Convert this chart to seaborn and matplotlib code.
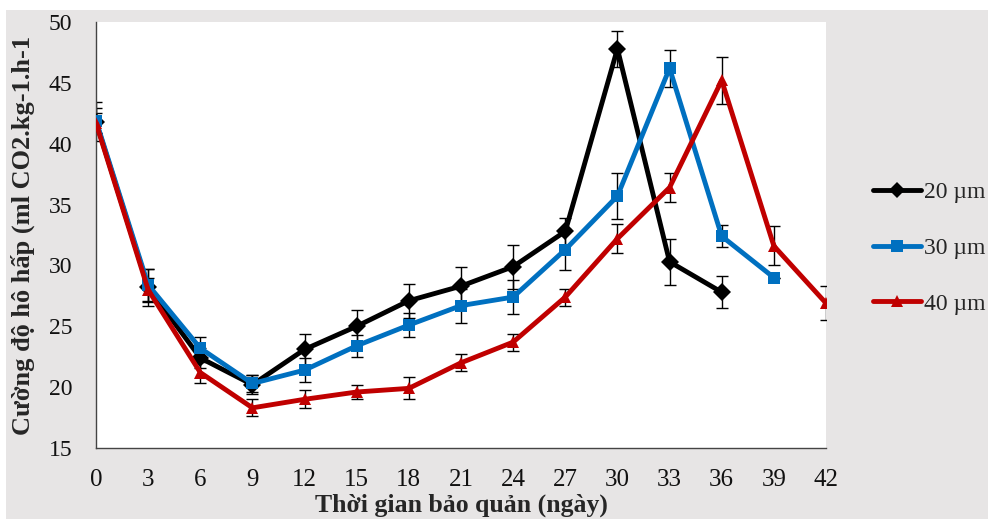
import numpy as np
import pandas as pd
import matplotlib
matplotlib.use("Agg")
import matplotlib.pyplot as plt
import seaborn as sns
from matplotlib.patches import Rectangle
from matplotlib.lines import Line2D

# ---- data ----
days_20 = [0, 3, 6, 9, 12, 15, 18, 21, 24, 27, 30, 33, 36]
vals_20 = [41.8, 28.2, 22.4, 20.2, 23.1, 25.0, 27.1, 28.3, 29.9, 32.8, 47.8, 30.3, 27.8]
err_20 = [1.6, 1.5, 0.8, 0.8, 1.3, 1.3, 1.4, 1.6, 1.8, 1.1, 1.5, 1.9, 1.3]

days_30 = [0, 3, 6, 9, 12, 15, 18, 21, 24, 27, 30, 33, 36, 39]
vals_30 = [41.9, 28.4, 23.2, 20.3, 21.4, 23.4, 25.1, 26.7, 27.4, 31.3, 35.7, 46.2, 32.4, 29.0]
err_30 = [1.0, 1.3, 0.9, 0.7, 1.0, 0.9, 1.0, 1.4, 1.4, 1.7, 1.9, 1.5, 0.9, 0.0]

days_40 = [0, 3, 6, 9, 12, 15, 18, 21, 24, 27, 30, 33, 36, 39, 42]
vals_40 = [41.7, 28.0, 21.2, 18.3, 19.0, 19.6, 19.9, 22.0, 23.7, 27.4, 32.2, 36.4, 45.2, 31.6, 26.9]
err_40 = [0.8, 1.0, 0.9, 0.7, 0.75, 0.6, 0.9, 0.7, 0.7, 0.7, 1.2, 1.2, 1.9, 1.6, 1.4]

series_names = ["20 µm", "30 µm", "40 µm"]
x_ticks = list(range(0, 43, 3))
y_ticks = [15, 20, 25, 30, 35, 40, 45, 50]

colors = {"20 µm": "#000000", "30 µm": "#0070C0", "40 µm": "#C00000"}
markers = {"20 µm": "D", "30 µm": "s", "40 µm": "^"}

frames = []
for name, d, v, e in zip(series_names, [days_20, days_30, days_40],
                         [vals_20, vals_30, vals_40], [err_20, err_30, err_40]):
    frames.append(pd.DataFrame({"day": d, "value": v, "err": e, "film": name}))
df = pd.concat(frames, ignore_index=True)

# ---- figure ----
sns.set_style("white")
plt.rcParams["font.family"] = ["Liberation Serif", "DejaVu Serif"]

W, H = 988, 519
fig = plt.figure(figsize=(W / 100, H / 100), dpi=100, facecolor="white")
fig.patches.append(Rectangle((6 / W, 0), 1 - 6 / W, 1 - 10 / H, transform=fig.transFigure,
                             facecolor="#E7E5E5", edgecolor="none", zorder=-10))
ax = fig.add_axes([96 / W, 1 - 448 / H, (826 - 96) / W, (448 - 22) / H])
ax.set_facecolor("white")

# error bars
for name in series_names:
    sub = df[df["film"] == name]
    ax.errorbar(sub["day"], sub["value"], yerr=sub["err"], fmt="none", ecolor="black",
                elinewidth=1.0, capsize=4.5, capthick=1.0, zorder=2)

sns.lineplot(data=df, x="day", y="value", hue="film", style="film",
             palette=colors, markers=markers, dashes=False, linewidth=3.5,
             markersize=9, markeredgewidth=0, ax=ax, legend=False, zorder=3,
             estimator=None, sort=False)

ax.set_xlim(0, 42)
ax.set_ylim(15, 50)
ax.set_xticks(x_ticks)
ax.set_yticks(y_ticks)
ax.tick_params(axis="both", direction="out", length=7, width=1, colors="#444444",
               labelcolor="#111111")
ax.tick_params(axis="x", pad=8, labelsize=18)
ax.tick_params(axis="y", pad=10, labelsize=17)
for s in ["top", "right"]:
    ax.spines[s].set_visible(False)
for s in ["left", "bottom"]:
    ax.spines[s].set_color("#444444")
    ax.spines[s].set_linewidth(1)

ax.set_xlabel("Thời gian bảo quản (ngày)", fontsize=18.5, fontweight="bold")
ax.set_ylabel("Cường độ hô hấp (ml CO2.kg-1.h-1", fontsize=19, fontweight="bold")
ax.xaxis.set_label_coords(0.5, -0.108)
ax.yaxis.set_label_coords(-0.084, 0.5)

# legend
handles = [Line2D([0], [0], color=colors[n], lw=3.5, marker=markers[n], ms=8, mew=0)
           for n in series_names]
fig.legend(handles, series_names, loc="center left", bbox_to_anchor=(864 / W, 1 - 248 / H),
           frameon=False, fontsize=17, handlelength=2.0, handletextpad=0.15,
           labelspacing=1.45, borderaxespad=0)

fig.savefig("out.png", dpi=100, facecolor=fig.get_facecolor())
